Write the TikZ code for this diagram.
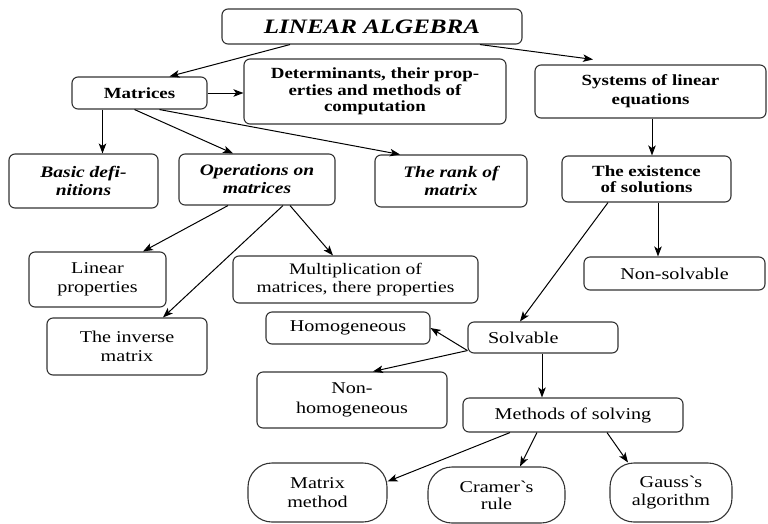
\documentclass[tikz,border=0pt]{standalone}
\usepackage{fontspec}
\setmainfont{Liberation Serif}[FakeStretch=1.22]
\usetikzlibrary{arrows.meta}

\begin{document}
\begin{tikzpicture}[x=1pt,y=-1pt,
  every node/.style={font=\fontsize{16.5}{18.5}\selectfont},
  box/.style={draw=black!80,line width=1.1pt,rounded corners=6pt,align=center,inner sep=0pt},
  oval/.style={box,rounded corners=24pt},
  strong/.style={font=\fontsize{15.5}{16.5}\selectfont\bfseries},
  ital/.style={font=\fontsize{16}{18}\selectfont\bfseries\itshape},
  link/.style={line width=1pt,-{Stealth[length=10pt,width=7.5pt,inset=2.5pt]}}]
  \useasboundingbox (0,0) rectangle (768,523);
  \node[box,font=\fontsize{20.5}{22}\selectfont\bfseries\itshape,minimum width=300,minimum height=35] (la) at (372,26.5) {LINEAR ALGEBRA};
  \node[box,strong,minimum width=135,minimum height=32] (mat) at (139.5,93) {Matrices};
  \node[box,strong,minimum width=262,minimum height=65] (det) at (375,91.5) {Determinants, their prop-\\erties and methods of\\computation};
  \node[box,strong,minimum width=231,minimum height=53,font=\fontsize{15.5}{19}\selectfont\bfseries] (sys) at (650.5,91.5) {Systems of linear\\equations};
  \node[box,ital,minimum width=149,minimum height=54] (basic) at (83.5,181) {Basic defi-\\nitions};
  \node[box,ital,minimum width=156,minimum height=51] (ops) at (257,179.5) {Operations on\\matrices};
  \node[box,ital,minimum width=152,minimum height=52] (rank) at (451,181) {The rank of\\matrix};
  \node[box,strong,minimum width=169,minimum height=46] (ex) at (646.5,179) {The existence\\of solutions};
  \node[box,minimum width=137,minimum height=55,font=\fontsize{16.5}{19}\selectfont] (lin) at (97.5,279.5) {Linear\\properties};
  \node[box,minimum width=245,minimum height=47,font=\fontsize{16}{17.5}\selectfont] (mult) at (355.5,279.5) {Multiplication of\\matrices, there properties};
  \node[box,minimum width=160,minimum height=57,font=\fontsize{16.5}{19}\selectfont] (inv) at (127,346.5) {The inverse\\matrix};
  \node[box,minimum width=181,minimum height=33] (nons) at (674.5,273.5) {Non-solvable};
  \node[box,minimum width=164,minimum height=32] (hom) at (348,328) {Homogeneous};
  \node[box,minimum width=150,minimum height=31,text width=110,align=left] (solv) at (543,337.5) {Solvable};
  \node[box,minimum width=190,minimum height=56,font=\fontsize{16.5}{20}\selectfont] (nonh) at (352,400) {Non-\\homogeneous};
  \node[box,minimum width=220,minimum height=34] (meth) at (573,415) {Methods of solving};
  \node[oval,minimum width=139,minimum height=59] (mm) at (317.5,492.5) {Matrix\\method};
  \node[oval,minimum width=137,minimum height=56,font=\fontsize{16.5}{17}\selectfont] (cr) at (496.5,495) {Cramer\textasciigrave s\\rule};
  \node[oval,minimum width=122,minimum height=59] (ga) at (671,492.5) {Gauss\textasciigrave s\\algorithm};
  \draw[link] ([xshift=-82]la.south) -- ([xshift=30]mat.north);
  \draw[link] ([xshift=108]la.south) -- ([xshift=-57.5,yshift=5]sys.north);
  \draw[link] (mat.east) -- (mat.east -| det.west);
  \draw[link] ([xshift=-37]mat.south) -- ([xshift=-37]mat.south |- basic.north);
  \draw[link] ([xshift=-5]mat.south) -- ([xshift=-24]ops.north);
  \draw[link] ([xshift=20]mat.south) -- ([xshift=-51]rank.north);
  \draw[link] ([xshift=1.5]sys.south) -- ([xshift=1.5]sys.south |- ex.north);
  \draw[link] ([xshift=-29]ops.south) -- ([xshift=45.5]lin.north);
  \draw[link] ([xshift=26]ops.south) -- ([xshift=36]inv.north);
  \draw[link] ([xshift=33]ops.south) -- ([xshift=-22.5]mult.north);
  \draw[link] ([xshift=-38.5]ex.south) -- ([xshift=-23]solv.north);
  \draw[link] ([xshift=11.5]ex.south) -- ([xshift=11.5]ex.south |- nons.north);
  \draw[link] ([yshift=3]solv.south west) -- (hom.east);
  \draw[link] ([yshift=3]solv.south west) -- ([xshift=21]nonh.north);
  \draw[link] ([xshift=-1]solv.south) -- ([xshift=-1]solv.south |- meth.north);
  \draw[link] ([xshift=-63]meth.south) -- ([yshift=11]mm.east);
  \draw[link] ([xshift=-36]meth.south) -- ([xshift=23.5]cr.north);
  \draw[link] ([xshift=34]meth.south) -- ([xshift=-43]ga.north);
\end{tikzpicture}
\end{document}
